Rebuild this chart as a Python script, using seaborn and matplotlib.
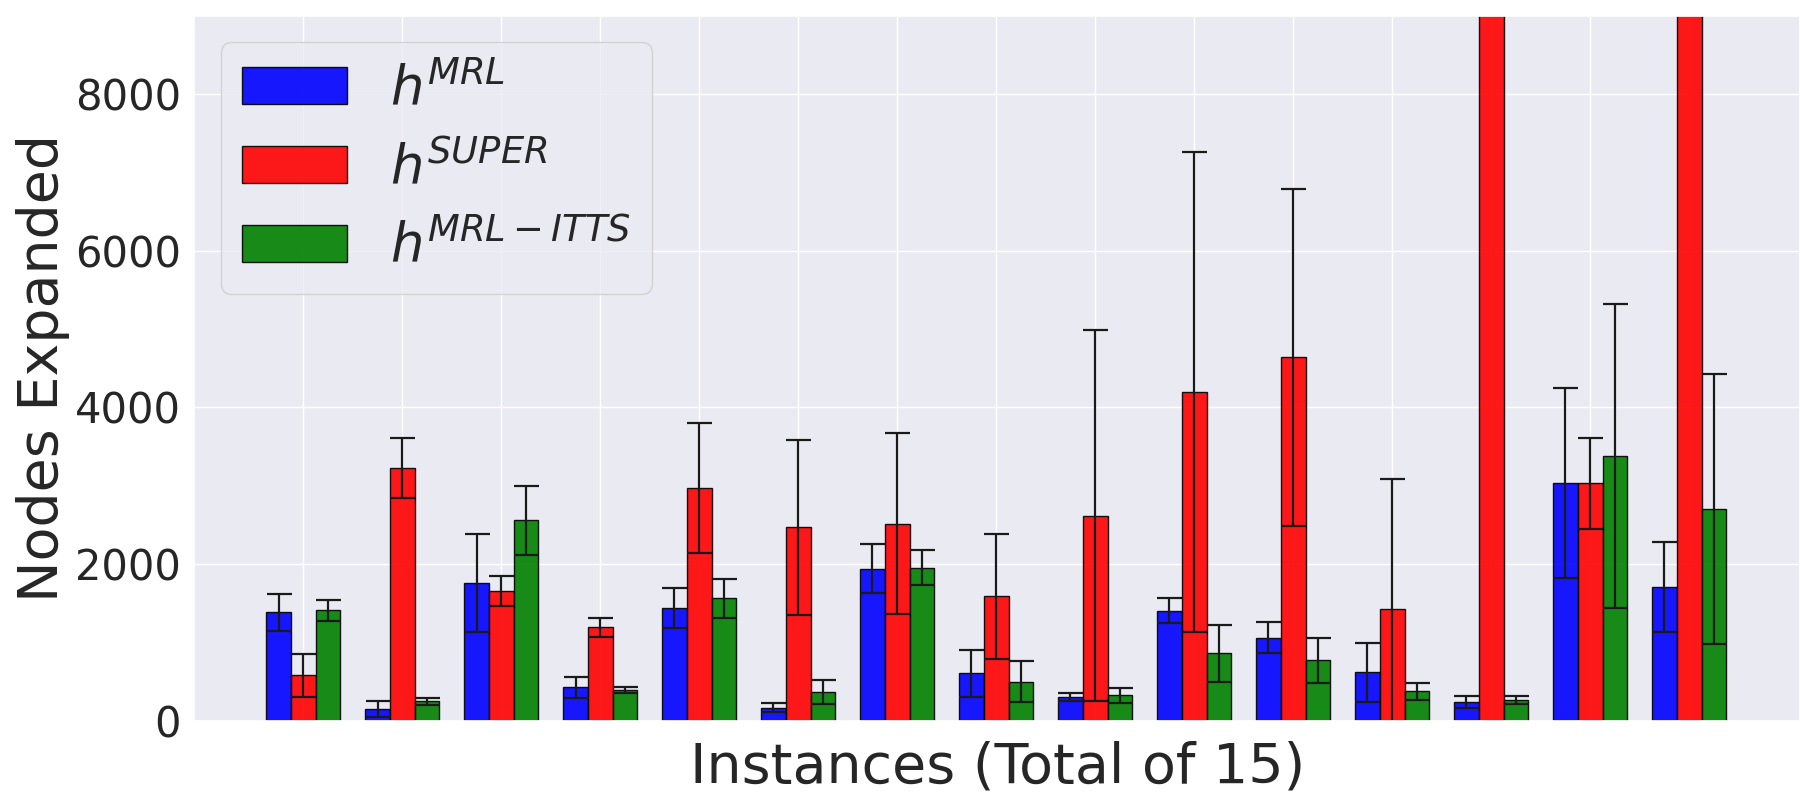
import matplotlib
matplotlib.use("Agg")
import matplotlib.pyplot as plt
import pandas as pd
import seaborn as sns

# values (15 instances)
instances = [str(i) for i in range(1, 16)]
heuristics = [r"$h^{MRL}$", r"$h^{SUPER}$", r"$h^{MRL-ITTS}$"]

mrl_mean = [1383, 145, 1753, 426, 1434, 169, 1940, 605, 308, 1405, 1062, 617, 234, 3030, 1702]
mrl_err = [234, 102, 625, 136, 255, 62, 312, 300, 52, 158, 196, 376, 77, 1212, 574]

super_mean = [579, 3221, 1651, 1191, 2966, 2467, 2516, 1588, 2620, 4199, 4640, 1421, 15000, 3030, 14000]
super_err = [272, 383, 191, 121, 830, 1111, 1159, 796, 2362, 3062, 2149, 1660, 3000, 581, 3000]

itts_mean = [1408, 247, 2557, 387, 1562, 372, 1955, 501, 323, 859, 770, 374, 260, 3374, 2698]
itts_err = [140, 45, 440, 38, 249, 154, 228, 260, 97, 370, 293, 108, 51, 1940, 1723]

colors = ["blue", "red", "green"]

rows = []
for h, means in zip(heuristics, [mrl_mean, super_mean, itts_mean]):
    for inst, v in zip(instances, means):
        rows.append({"instance": inst, "heuristic": h, "nodes": v})
df = pd.DataFrame(rows)

sns.set_theme(style="darkgrid")
plt.rcParams["font.family"] = ["DejaVu Sans"]

fig = plt.figure(figsize=(18, 8), dpi=100)
ax = fig.add_axes([0.108, 0.099, 0.892, 0.8815])

sns.barplot(
    data=df, x="instance", y="nodes", hue="heuristic", hue_order=heuristics,
    palette=colors, saturation=1, width=0.75, errorbar=None,
    edgecolor="black", linewidth=1, alpha=0.9, ax=ax,
)

# error bars on top of each bar
for container, errs in zip(ax.containers, [mrl_err, super_err, itts_err]):
    xs = [p.get_x() + p.get_width() / 2 for p in container]
    ys = [p.get_height() for p in container]
    ax.errorbar(xs, ys, yerr=errs, fmt="none", ecolor="#1a1a1a",
                elinewidth=1.6, capsize=9, capthick=1.6)

ax.grid(True, axis="both")
ax.set_axisbelow(True)
ax.set_ylim(0, 9000)
ax.set_xlim(-1.1, 15.12)
ax.set_yticks([0, 2000, 4000, 6000, 8000])
ax.tick_params(axis="y", labelsize=30)
ax.tick_params(axis="x", labelbottom=False)
ax.set_xlabel("Instances (Total of 15)", fontsize=40, labelpad=14)
ax.set_ylabel("Nodes Expanded", fontsize=40, labelpad=4)

handles, labels = ax.get_legend_handles_labels()
for h in handles:
    h.set_alpha(0.9)
    h.set_edgecolor("black")
ax.legend(handles, labels, loc="upper left", fontsize=38, title=None,
          handlelength=2, frameon=True)

fig.savefig("out.png", dpi=100)
